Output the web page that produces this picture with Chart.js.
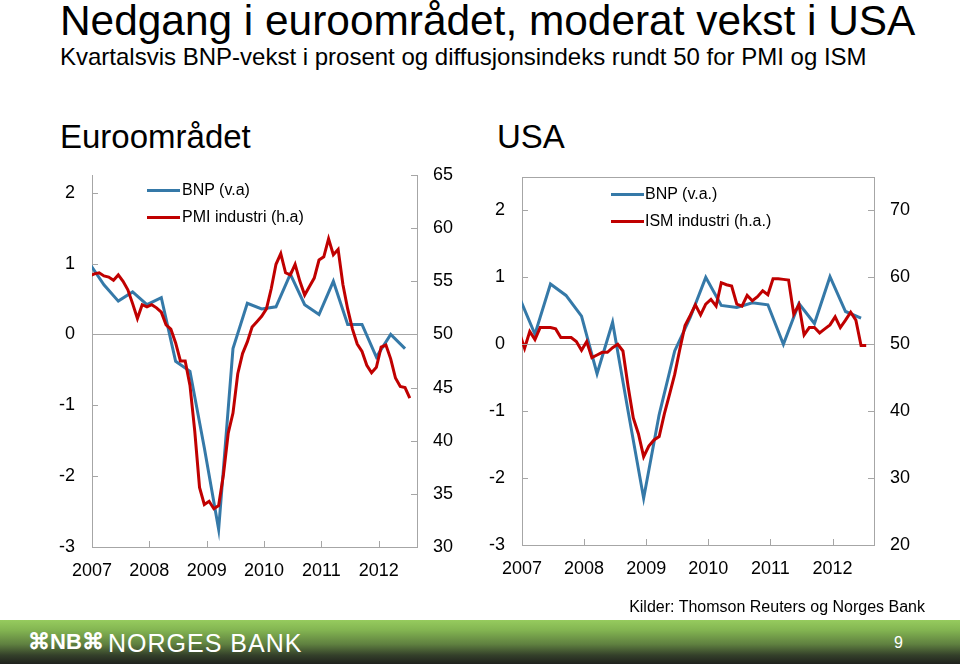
<!DOCTYPE html>
<html>
<head>
<meta charset="utf-8">
<script src="https://cdn.jsdelivr.net/npm/chart.js@4/dist/chart.umd.min.js"></script>
<style>
  html, body { margin: 0; padding: 0; background: #fff; }
  body { font-family: "Liberation Sans", Arial, Helvetica, sans-serif; color: #000; }
  #page { position: relative; width: 960px; height: 664px; overflow: hidden; background: #fff; }
  .t { position: absolute; white-space: nowrap; line-height: 1; color: #000; }
  canvas { position: absolute; }
  .leg { position: absolute; font-size: 16px; line-height: 1; white-space: nowrap; }
  .sw { position: absolute; height: 3px; width: 33px; }
  #band { position: absolute; left: 0; top: 620px; width: 960px; height: 44px;
          background: linear-gradient(to bottom, #96cb5e 0%, #84b652 22%, #5f8040 55%, #34402a 80%, #1f211d 100%); }
</style>
</head>
<body>
<div id="page">
  <div class="t" style="left:60px;top:0px;font-size:42.4px;">Nedgang i euroområdet, moderat vekst i USA</div>
  <div class="t" style="left:60px;top:45px;font-size:24px;">Kvartalsvis BNP-vekst i prosent og diffusjonsindeks rundt 50 for PMI og ISM</div>
  <div class="t" style="left:60px;top:120px;font-size:33px;">Euroområdet</div>
  <div class="t" style="left:497px;top:120px;font-size:33px;">USA</div>

  <canvas id="euro" width="470" height="440" style="left:0px;top:160px;"></canvas>
  <canvas id="usa" width="490" height="440" style="left:470px;top:160px;"></canvas>

  <div class="sw" style="left:147px;top:189px;background:#3579a8;"></div>
  <div class="leg" style="left:182px;top:182px;">BNP (v.a)</div>
  <div class="sw" style="left:147px;top:216px;background:#c00000;"></div>
  <div class="leg" style="left:182px;top:209px;">PMI industri (h.a)</div>

  <div class="sw" style="left:611px;top:193px;background:#3579a8;"></div>
  <div class="leg" style="left:645px;top:186px;">BNP (v.a.)</div>
  <div class="sw" style="left:611px;top:220px;background:#c00000;"></div>
  <div class="leg" style="left:645px;top:213px;">ISM industri (h.a.)</div>

  <div class="t" style="right:35px;top:599px;font-size:16px;">Kilder: Thomson Reuters og Norges Bank</div>
  <div id="band"></div>
  <div class="t" style="left:28px;top:631px;font-size:22px;color:#fff;font-weight:bold;">⌘NB⌘</div>
  <div class="t" style="left:108px;top:631px;font-size:25px;color:#fff;letter-spacing:1px;">NORGES BANK</div>
  <div class="t" style="left:894px;top:635px;font-size:16px;color:#fff;">9</div>
</div>

<script>
// ---------- data ----------
const years = [2007, 2008, 2009, 2010, 2011, 2012];

const quarterLabels = ['2006K4',
  '2007K1','2007K2','2007K3','2007K4',
  '2008K1','2008K2','2008K3','2008K4',
  '2009K1','2009K2','2009K3','2009K4',
  '2010K1','2010K2','2010K3','2010K4',
  '2011K1','2011K2','2011K3','2011K4',
  '2012K1','2012K2'];

const monthLabels = ['2006-12',
  '2007-01','2007-02','2007-03','2007-04','2007-05','2007-06','2007-07','2007-08','2007-09','2007-10','2007-11','2007-12',
  '2008-01','2008-02','2008-03','2008-04','2008-05','2008-06','2008-07','2008-08','2008-09','2008-10','2008-11','2008-12',
  '2009-01','2009-02','2009-03','2009-04','2009-05','2009-06','2009-07','2009-08','2009-09','2009-10','2009-11','2009-12',
  '2010-01','2010-02','2010-03','2010-04','2010-05','2010-06','2010-07','2010-08','2010-09','2010-10','2010-11','2010-12',
  '2011-01','2011-02','2011-03','2011-04','2011-05','2011-06','2011-07','2011-08','2011-09','2011-10','2011-11','2011-12',
  '2012-01','2012-02','2012-03','2012-04','2012-05','2012-06','2012-07'];

// Euro area: quarterly GDP growth (%), left axis
const euroGdp = [1.0, 0.7, 0.47, 0.6, 0.42, 0.52, -0.38, -0.52, -1.6, -2.75, -0.2, 0.44, 0.36, 0.39, 0.85, 0.42, 0.28, 0.75, 0.14, 0.14, -0.32, 0.0, -0.2];
// Euro area: manufacturing PMI, right axis
const euroPmi = [55.5,
  55.7, 55.8, 55.5, 55.4, 55.1, 55.6, 55.0, 54.2, 52.9, 51.5, 52.8, 52.6,
  52.8, 52.5, 52.1, 50.9, 50.5, 49.2, 47.5, 47.5, 45.2, 40.9, 35.6, 34.0,
  34.3, 33.6, 33.9, 36.8, 40.7, 42.6, 46.3, 48.2, 49.3, 50.7, 51.2, 51.7,
  52.4, 54.3, 56.6, 57.6, 55.8, 55.6, 56.6, 55.0, 53.7, 54.5, 55.3, 57.0,
  57.3, 59.0, 57.5, 58.0, 54.7, 52.4, 50.5, 49.1, 48.4, 47.1, 46.4, 46.9,
  48.8, 49.0, 47.7, 45.9, 45.1, 45.0, 44.0];

// USA: quarterly GDP growth (%), left axis
const usGdp = [0.7, 0.15, 0.9, 0.73, 0.42, -0.44, 0.33, -1.0, -2.3, -1.05, -0.1, 0.4, 1.0, 0.58, 0.55, 0.62, 0.59, 0.0, 0.61, 0.31, 1.01, 0.49, 0.39];
// USA: ISM manufacturing, right axis
const usIsm = [51.7,
  49.4, 51.9, 50.7, 52.5, 52.5, 52.5, 52.3, 51.0, 51.0, 51.0, 50.4, 49.1,
  50.4, 48.0, 48.4, 48.8, 48.8, 49.5, 50.0, 49.0, 43.7, 39.0, 36.6, 33.2,
  34.8, 35.7, 36.2, 39.6, 42.5, 45.5, 49.3, 52.8, 54.3, 55.9, 54.4, 56.0,
  56.7, 55.7, 59.2, 58.9, 58.7, 56.0, 55.7, 57.3, 56.5, 57.1, 58.0, 57.4,
  59.8, 59.8, 59.7, 59.6, 54.5, 55.9, 51.4, 52.5, 52.5, 51.7, 52.3, 52.9,
  54.1, 52.5, 53.6, 54.8, 53.6, 49.8, 49.8];

const euroLeftTicks = [-3, -2, -1, 0, 1, 2];
const euroRightTicks = [30, 35, 40, 45, 50, 55, 60, 65];
const usLeftTicks = [-3, -2, -1, 0, 1, 2];
const usRightTicks = [20, 30, 40, 50, 60, 70];

// ---------- helpers ----------
function periodToYear(label) {
  if (label.indexOf('K') > 0) {
    const y = parseInt(label.slice(0, 4), 10), q = parseInt(label.slice(5), 10);
    return y + (3 * q - 0.5) / 12;
  }
  const y = parseInt(label.slice(0, 4), 10), m = parseInt(label.slice(5), 10);
  return y + (m - 0.5) / 12;
}
function toPoints(labels, values) {
  return values.map((v, i) => ({ x: periodToYear(labels[i]), y: v }));
}

const BLUE = '#3579a8', RED = '#c00000', GRAY = '#a6a6a6';
Chart.defaults.font.family = '"Liberation Sans", Arial, Helvetica, sans-serif';
Chart.defaults.font.size = 18;
Chart.defaults.color = '#000';

const innerTicks = {
  id: 'innerTicks',
  afterDraw(chart, args, opts) {
    const ctx = chart.ctx, a = chart.chartArea, len = 6;
    ctx.save();
    ctx.strokeStyle = GRAY; ctx.lineWidth = 1;
    Object.values(chart.scales).forEach(s => {
      s.ticks.forEach(t => {
        const p = Math.round(s.getPixelForValue(t.value)) + 0.5;
        ctx.beginPath();
        if (s.axis === 'x') { ctx.moveTo(p, a.bottom); ctx.lineTo(p, a.bottom - len); }
        else if (s.position === 'left') { ctx.moveTo(a.left, p); ctx.lineTo(a.left + len, p); }
        else { ctx.moveTo(a.right, p); ctx.lineTo(a.right - len, p); }
        ctx.stroke();
      });
    });
    if (opts && opts.box) {
      ctx.beginPath();
      ctx.moveTo(a.left, Math.round(a.top) + 0.5);
      ctx.lineTo(a.right, Math.round(a.top) + 0.5);
      ctx.stroke();
    }
    ctx.restore();
  }
};

function fitY(w) {
  return s => { s.width = w; s.paddingTop = 0; s.paddingBottom = 0; };
}

function makeChart(id, cfg) {
  return new Chart(document.getElementById(id), {
    type: 'line',
    data: {
      datasets: [
        { label: cfg.l1, data: cfg.d1, yAxisID: 'yL', borderColor: BLUE, backgroundColor: BLUE,
          borderWidth: 3, pointRadius: 0, tension: 0, order: 2 },
        { label: cfg.l2, data: cfg.d2, yAxisID: 'yR', borderColor: RED, backgroundColor: RED,
          borderWidth: 3, pointRadius: 0, tension: 0, order: 1 }
      ]
    },
    options: {
      responsive: false, animation: false, devicePixelRatio: 1,
      layout: { padding: { top: cfg.padTop, left: 0, right: 0, bottom: 0 } },
      plugins: { legend: { display: false }, tooltip: { enabled: false }, innerTicks: { box: cfg.box } },
      scales: {
        x: {
          type: 'linear', min: 2007, max: 2012.667,
          afterFit: s => { s.height = cfg.xH; },
          afterBuildTicks: s => { s.ticks = years.map(v => ({ value: v })); },
          ticks: { autoSkip: false, maxRotation: 0, padding: 13, callback: v => String(v) },
          grid: { display: false, drawTicks: false },
          border: { display: true, color: GRAY, width: 1 }
        },
        yL: {
          type: 'linear', position: 'left', min: -3, max: cfg.lMax,
          afterFit: fitY(cfg.lW),
          afterBuildTicks: s => { s.ticks = cfg.lTicks.map(v => ({ value: v })); },
          ticks: { padding: 17, callback: v => String(v) },
          grid: { drawTicks: false, lineWidth: 1,
                  color: c => (c.tick && c.tick.value === 0) ? GRAY : 'rgba(0,0,0,0)' },
          border: { display: true, color: GRAY, width: 1 }
        },
        yR: {
          type: 'linear', position: 'right', min: cfg.rMin, max: cfg.rMax,
          afterFit: fitY(cfg.rW),
          afterBuildTicks: s => { s.ticks = cfg.rTicks.map(v => ({ value: v })); },
          ticks: { padding: 16, callback: v => String(v) },
          grid: { display: false, drawTicks: false },
          border: { display: true, color: GRAY, width: 1 }
        }
      }
    },
    plugins: [innerTicks]
  });
}

makeChart('euro', {
  l1: 'BNP (v.a)', l2: 'PMI industri (h.a)',
  d1: toPoints(quarterLabels, euroGdp), d2: toPoints(monthLabels, euroPmi),
  padTop: 15, xH: 53, lW: 92, rW: 53,
  lMax: 2.25, rMin: 30, rMax: 65,
  lTicks: euroLeftTicks, rTicks: euroRightTicks, box: false
});

makeChart('usa', {
  l1: 'BNP (v.a.)', l2: 'ISM industri (h.a.)',
  d1: toPoints(quarterLabels, usGdp), d2: toPoints(monthLabels, usIsm),
  padTop: 17, xH: 55, lW: 52, rW: 86,
  lMax: 2.5, rMin: 20, rMax: 75,
  lTicks: usLeftTicks, rTicks: usRightTicks, box: true
});
</script>
</body>
</html>
